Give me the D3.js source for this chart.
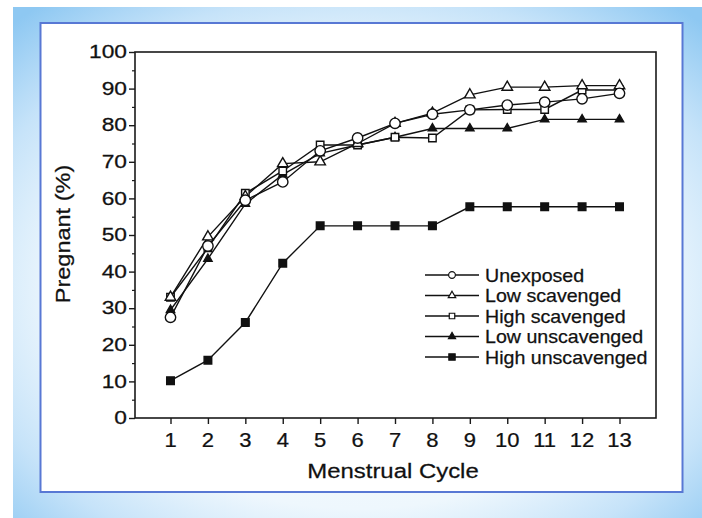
<!DOCTYPE html>
<html>
<head>
<meta charset="utf-8">
<script src="https://cdn.jsdelivr.net/npm/d3@7"></script>
<style>
  html, body { margin: 0; padding: 0; background: #ffffff; }
  svg { display: block; }
  text { font-family: "Liberation Sans", Arial, Helvetica, sans-serif; fill: #111; stroke: #111; stroke-width: 0.25; }
</style>
</head>
<body>
<svg id="chart" width="702" height="518"></svg>
<script>
// ---- data ----
const cycles = [1, 2, 3, 4, 5, 6, 7, 8, 9, 10, 11, 12, 13];
const unexposed       = [27.5, 47.0, 59.5, 64.5, 73.0, 76.5, 80.5, 83.0, 84.2, 85.5, 86.3, 87.2, 88.7];
const lowScavenged    = [33.0, 49.5, 60.5, 69.5, 70.0, 75.0, 80.5, 83.3, 88.3, 90.4, 90.4, 90.8, 90.8];
const highScavenged   = [33.0, 46.5, 61.4, 67.5, 74.6, 74.6, 76.7, 76.5, 84.2, 84.3, 84.3, 89.6, 89.6];
const lowUnscavenged  = [29.5, 43.5, 58.5, 66.5, 72.3, 74.6, 76.7, 79.1, 79.1, 79.1, 81.6, 81.6, 81.6];
const highUnscavenged = [10.2, 15.8, 26.1, 42.3, 52.5, 52.5, 52.5, 52.5, 57.7, 57.7, 57.7, 57.7, 57.7];
const seriesNames = ["Unexposed", "Low scavenged", "High scavenged", "Low unscavenged", "High unscavenged"];
const yTicks = [0, 10, 20, 30, 40, 50, 60, 70, 80, 90, 100];
const yMinorTicks = [5, 15, 25, 35, 45, 55, 65, 75, 85, 95];
const xTitle = "Menstrual Cycle";
const yTitle = "Pregnant (%)";

const seriesValues = [unexposed, lowScavenged, highScavenged, lowUnscavenged, highUnscavenged];

const svg = d3.select("#chart");

// ---- background frame ----
const defs = svg.append("defs");
const rg = defs.append("radialGradient").attr("id", "bg")
  .attr("cx", "50%").attr("cy", "55%").attr("r", "72%");
rg.append("stop").attr("offset", "0%").attr("stop-color", "#ffffff");
rg.append("stop").attr("offset", "60%").attr("stop-color", "#eef7fd");
rg.append("stop").attr("offset", "80%").attr("stop-color", "#c6e3f9");
rg.append("stop").attr("offset", "100%").attr("stop-color", "#8ec8f2");

svg.append("rect").attr("x", 13).attr("y", 7).attr("width", 689).attr("height", 511)
  .attr("fill", "url(#bg)");
svg.append("rect").attr("x", 40.5).attr("y", 23).attr("width", 642).attr("height", 469)
  .attr("fill", "#ffffff").attr("stroke", "#5878d4").attr("stroke-width", 2);

// ---- scales ----
const x = d3.scaleLinear().domain([1, 13]).range([170.5, 619.5]);
const y = d3.scaleLinear().domain([0, 100]).range([418, 52]);
const plotLeft = 135, plotRight = 656;

// ---- plot frame ----
svg.append("rect").attr("x", plotLeft).attr("y", y(100))
  .attr("width", plotRight - plotLeft).attr("height", y(0) - y(100))
  .attr("fill", "none").attr("stroke", "#1a1a1a").attr("stroke-width", 1.6);

// y axis
const yAxis = d3.axisLeft(y).tickValues(yTicks).tickSize(6).tickFormat("");
const gy = svg.append("g").attr("transform", `translate(${plotLeft},0)`).call(yAxis);
gy.select(".domain").remove();
gy.selectAll("line").attr("stroke", "#1a1a1a").attr("stroke-width", 1.4);
const yMinor = d3.axisLeft(y).tickValues(yMinorTicks).tickSize(3).tickFormat("");
const gym = svg.append("g").attr("transform", `translate(${plotLeft},0)`).call(yMinor);
gym.select(".domain").remove();
gym.selectAll("line").attr("stroke", "#1a1a1a").attr("stroke-width", 1.2);

svg.append("g").selectAll("g").data(yTicks).join("g")
  .attr("transform", d => `translate(127,${y(d) + 6.2}) scale(1.3,1)`)
  .append("text").attr("text-anchor", "end").attr("font-size", 17.5).text(d => d);

// x axis
const xAxis = d3.axisBottom(x).tickValues(cycles).tickSize(6).tickFormat("");
const gx = svg.append("g").attr("transform", `translate(0,${y(0)})`).call(xAxis);
gx.select(".domain").remove();
gx.selectAll("line").attr("stroke", "#1a1a1a").attr("stroke-width", 1.4);

svg.append("g").selectAll("g").data(cycles).join("g")
  .attr("transform", d => `translate(${x(d)},447) scale(1.1,1)`)
  .append("text").attr("text-anchor", "middle").attr("font-size", 20).text(d => d);

// titles
svg.append("g").attr("transform", "translate(393,478) scale(1.14,1)")
  .append("text").attr("text-anchor", "middle").attr("font-size", 21).text(xTitle);
svg.append("g").attr("transform", "translate(70,234) rotate(-90) scale(1.12,1)")
  .append("text").attr("text-anchor", "middle").attr("font-size", 21).text(yTitle);

// ---- marker definitions ----
const markerDefs = [
  { type: d3.symbolCircle,   size: 85, fill: "#ffffff", lsize: 36 },
  { type: d3.symbolTriangle, size: 48, fill: "#ffffff", lsize: 24 },
  { type: d3.symbolSquare,   size: 56, fill: "#ffffff", lsize: 30 },
  { type: d3.symbolTriangle, size: 30, fill: "#111111", lsize: 22 },
  { type: d3.symbolSquare,   size: 58, fill: "#111111", lsize: 40 }
];

const line = d3.line().x((d, i) => x(cycles[i])).y(d => y(d));

// lines
const drawOrder = [4, 3, 2, 1, 0];
drawOrder.forEach(k => {
  svg.append("path").datum(seriesValues[k]).attr("d", line)
    .attr("fill", "none").attr("stroke", "#111").attr("stroke-width", 1.4);
});
// markers
drawOrder.forEach(k => {
  const m = markerDefs[k];
  svg.append("g").selectAll("path").data(seriesValues[k]).join("path")
    .attr("transform", (d, i) => `translate(${x(cycles[i])},${y(d)})`)
    .attr("d", d3.symbol().type(m.type).size(m.size))
    .attr("fill", m.fill).attr("stroke", "#111").attr("stroke-width", 1.4);
});

// ---- legend ----
const legendY = [275, 295.5, 316, 336.5, 357];
const lg = svg.append("g");
seriesNames.forEach((name, k) => {
  const ly = legendY[k];
  const m = markerDefs[k];
  lg.append("line").attr("x1", 425).attr("x2", 479).attr("y1", ly).attr("y2", ly)
    .attr("stroke", "#111").attr("stroke-width", 1.4);
  lg.append("path").attr("transform", `translate(452,${ly})`)
    .attr("d", d3.symbol().type(m.type).size(m.lsize))
    .attr("fill", m.fill).attr("stroke", "#111").attr("stroke-width", 1.2);
  lg.append("g").attr("transform", `translate(485,${ly + 6.5}) scale(1.09,1)`)
    .append("text").attr("font-size", 18).text(name);
});
</script>
</body>
</html>
